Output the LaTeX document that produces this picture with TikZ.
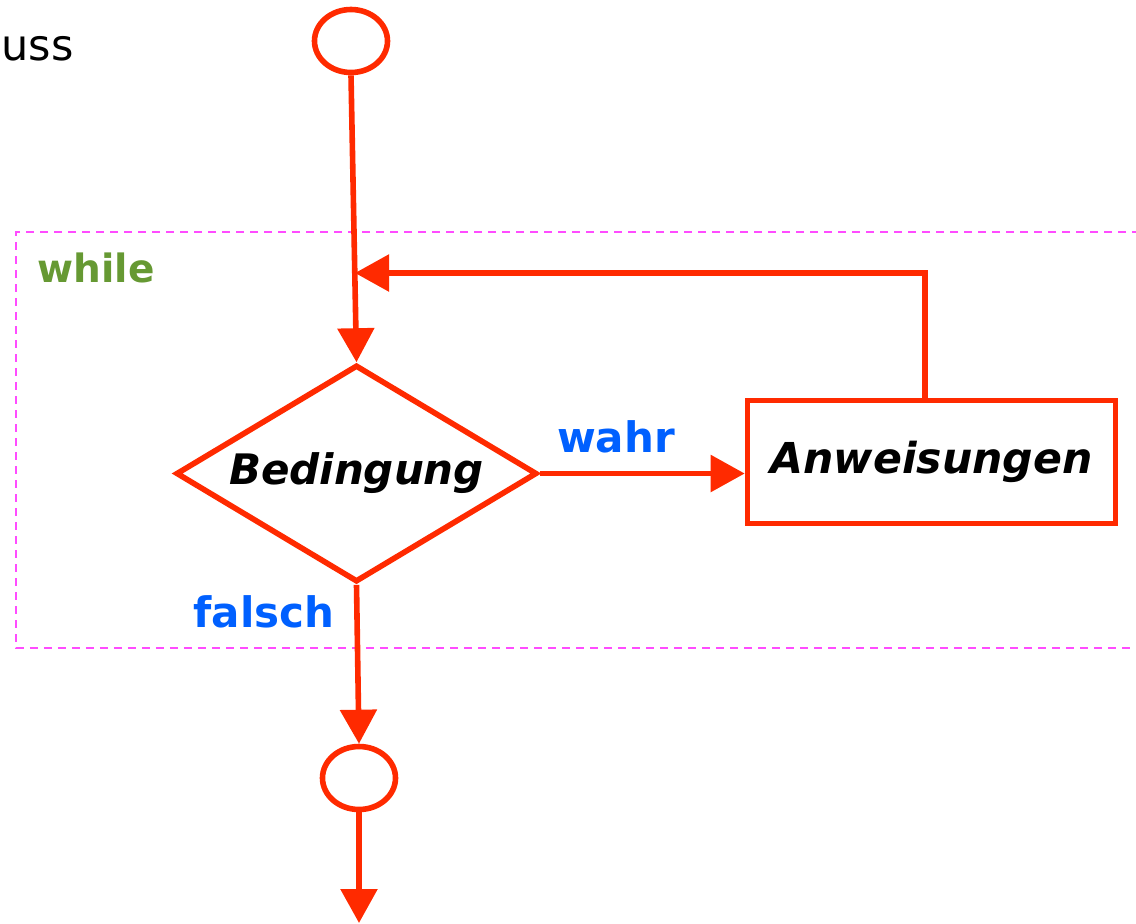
\documentclass[tikz,border=0pt]{standalone}
\usepackage{fontspec}
\setmainfont{DejaVu Sans}
\usetikzlibrary{shapes.geometric,arrows.meta}

\definecolor{flowred}{HTML}{FF2A00}
\definecolor{loopmag}{HTML}{FF4CFF}
\definecolor{caseblue}{HTML}{0060FF}
\definecolor{kwgreen}{HTML}{669933}

\begin{document}
\begin{tikzpicture}[x=0.5pt,y=-0.5pt,
		flow/.style={draw=flowred,line width=2.8pt,-{Triangle[length=17pt,width=18pt]}},
		term/.style={ellipse,draw=flowred,line width=2.8pt,minimum width=36.5pt,minimum height=31.5pt,inner sep=0pt},
		cond/.style={diamond,aspect=1.65,draw=flowred,line width=2.8pt,minimum width=180.5pt,minimum height=108.5pt,inner sep=0pt,
			font=\fontsize{21}{25}\selectfont\bfseries\itshape},
		stmt/.style={rectangle,draw=flowred,line width=2.8pt,minimum width=184pt,minimum height=61.5pt,inner sep=0pt,
			font=\fontsize{21.3}{25}\selectfont\bfseries\itshape},
		case/.style={text=caseblue,font=\fontsize{21}{25}\selectfont\bfseries,inner sep=0pt}]
		\useasboundingbox (0,0) rectangle (1136,923);

		% loop frame, open to the right
		\draw[loopmag,line width=1pt,dash pattern=on 4pt off 3pt] (1140,232) -- (16,232) -- (16,648) -- (1140,648);
		\node (kw) at (96,268) [text=kwgreen,font=\fontsize{19.5}{23}\selectfont\bfseries,inner sep=0pt] {while};
		\node (head) at (1,60) [anchor=base west,font=\fontsize{21.5}{26}\selectfont,inner sep=0pt] {uss};

		\node (start) at (351,41) [term] {};
		\node (test) at (356.5,473.5) [cond] {Bedingung};
		\node (act) at (931.5,462) [stmt] {Anweisungen};
		\node (stop) at (359,778) [term] {};
		\coordinate (back) at (925,398);
		\coordinate (join) at (355,273);
		\coordinate (out) at (359,923);

		\node (yes) at (616,437) [case] {wahr};
		\node (no) at (264,612) [case] {falsch};

		\draw[flow] (start.south) -- (test.north);
		\draw[flow] (test.east) -- (test.east -| act.west);
		\draw[flow] (back) |- (join);
		\draw[flow] (test.south) -- (stop.north);
		\draw[flow] (stop.south) -- (out);
	\end{tikzpicture}
\end{document}
